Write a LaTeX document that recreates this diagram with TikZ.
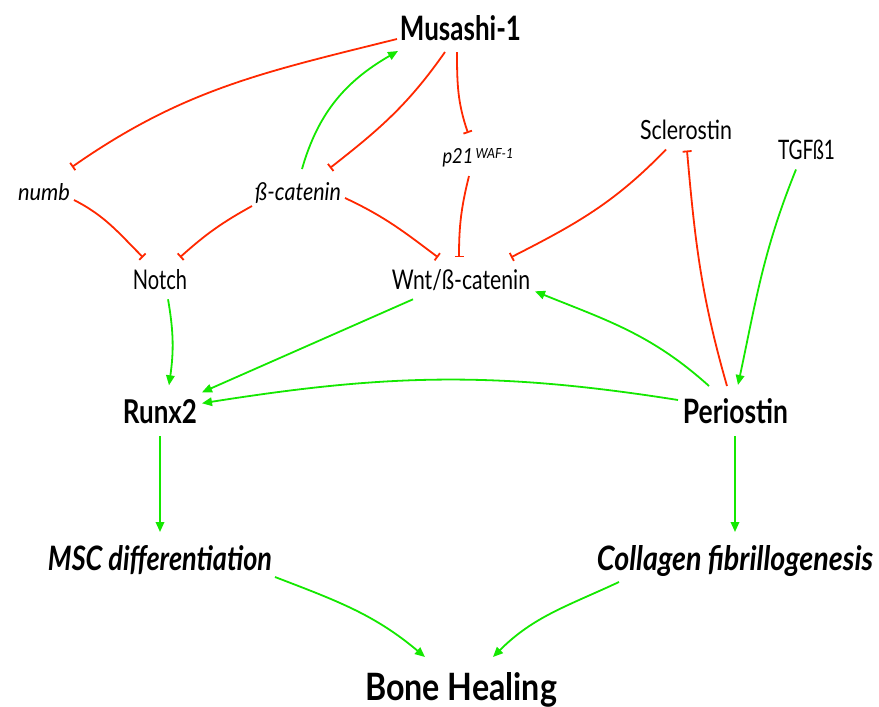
\documentclass[tikz,border=0pt]{standalone}
\usepackage{fontspec}
\setmainfont{Lato}
\usepackage{graphicx}
\usetikzlibrary{arrows.meta,calc}
\definecolor{inh}{RGB}{255,40,0}
\definecolor{act}{RGB}{20,232,0}
\newcommand{\fitlabel}[3]{\resizebox{#1pt}{#2pt}{#3}}
\tikzset{
  lbl/.style={inner sep=0pt, anchor=base},
  actedge/.style={draw=act, line width=1.8pt, -{Triangle[length=10pt,width=8.5pt]}},
  inhedge/.style={draw=inh, line width=1.8pt, -{Bar[width=9pt]}},
}
\begin{document}
\begin{tikzpicture}[x=1pt,y=1pt]
\useasboundingbox (0,0) rectangle (879,-707);
% nodes
\node[lbl] (mus)   at (460.5,-40)  {\fitlabel{121}{25}{\bfseries Musashi-1}};
\node[lbl] (numb)  at (44,-200)    {\fitlabel{52}{17}{\itshape numb}};
\node[lbl] (bcat)  at (298,-200)   {\fitlabel{86}{18}{\itshape ß-catenin}};
\node[lbl] (p21)   at (478,-163)   {\fitlabel{31}{15}{\itshape p21}\hspace{2pt}\raisebox{5pt}{\fitlabel{38}{10}{\itshape WAF-1}}};
\node[lbl] (scl)   at (686,-139.5) {\fitlabel{92}{19.5}{Sclerostin}};
\node[lbl] (tgf)   at (806.5,-159.5) {\fitlabel{57}{19.5}{TGFß1}};
\node[lbl] (notch) at (160,-289.3) {\fitlabel{54}{20}{Notch}};
\node[lbl] (wnt)   at (461,-289.3) {\fitlabel{138}{20}{Wnt/ß-catenin}};
\node[lbl] (runx)  at (160,-423.3) {\fitlabel{74}{24}{\bfseries Runx2}};
\node[lbl] (peri)  at (735.5,-423) {\fitlabel{105}{25}{\bfseries Periostin}};
\node[lbl] (msc)   at (160,-570)   {\fitlabel{224}{25}{\bfseries\itshape MSC differentiation}};
\node[lbl] (coll)  at (735,-570)   {\fitlabel{276}{25}{\bfseries\itshape Collagen fibrillogenesis}};
\node[lbl] (bone)  at (461,-700)   {\fitlabel{192}{28}{\bfseries Bone Healing}};
% inhibitory edges
\draw[inhedge] ($(mus.base)+(-63.5,1)$) to[out=194,in=35] ($(numb.base)+(28,33)$);
\draw[inhedge] ($(mus.base)+(-15.5,-12)$) to[out=235,in=38] ($(bcat.base)+(32,32)$);
\draw[inhedge] ($(mus.base)+(-3.5,-12)$) to[out=270,in=109] ($(p21.base)+(-10,30)$);
\draw[inhedge] ($(p21.base)+(-9,-13)$) to[out=256,in=90] ($(wnt.base)+(-2,32)$);
\draw[inhedge] ($(numb.base)+(30,0)$) to[out=333,in=135] ($(notch.base)+(-17,32)$);
\draw[inhedge] ($(bcat.base)+(-46,-6)$) to[out=209,in=42] ($(notch.base)+(20,32)$);
\draw[inhedge] ($(bcat.base)+(47,2)$) to[out=335,in=143] ($(wnt.base)+(-23,32)$);
\draw[inhedge] ($(scl.base)+(-20,-10)$) to[out=226,in=27] ($(wnt.base)+(50,32)$);
\draw[inhedge] ($(peri.base)+(-8.5,37)$) to[out=106,in=275] ($(scl.base)+(1,-11)$);
% activating edges
\draw[actedge] ($(bcat.base)+(4,31)$) to[out=74,in=210] ($(mus.base)+(-62.5,-11)$);
\draw[actedge] ($(tgf.base)+(-10.5,-10)$) to[out=248,in=78] ($(peri.base)+(2.5,38)$);
\draw[actedge] ($(peri.base)+(-26.5,37)$) to[out=138,in=338] ($(wnt.base)+(74,-2)$);
\draw[actedge] ($(notch.base)+(8,-10)$) to[out=280,in=82] ($(runx.base)+(9,38)$);
\draw[actedge] ($(wnt.base)+(-48,-10)$) -- ($(runx.base)+(42,31)$);
\draw[actedge] ($(peri.base)+(-57.5,23)$) to[out=171,in=9] ($(runx.base)+(42,20)$);
\draw[actedge] ($(runx.base)+(0,-13)$) -- ($(msc.base)+(0,38)$);
\draw[actedge] ($(peri.base)+(-0.5,-13)$) -- ($(coll.base)+(0,38)$);
\draw[actedge] ($(msc.base)+(115,-7)$) to[out=339,in=140] ($(bone.base)+(-36,43)$);
\draw[actedge] ($(coll.base)+(-116,-12)$) to[out=205,in=45] ($(bone.base)+(32,43)$);
\end{tikzpicture}
\end{document}
